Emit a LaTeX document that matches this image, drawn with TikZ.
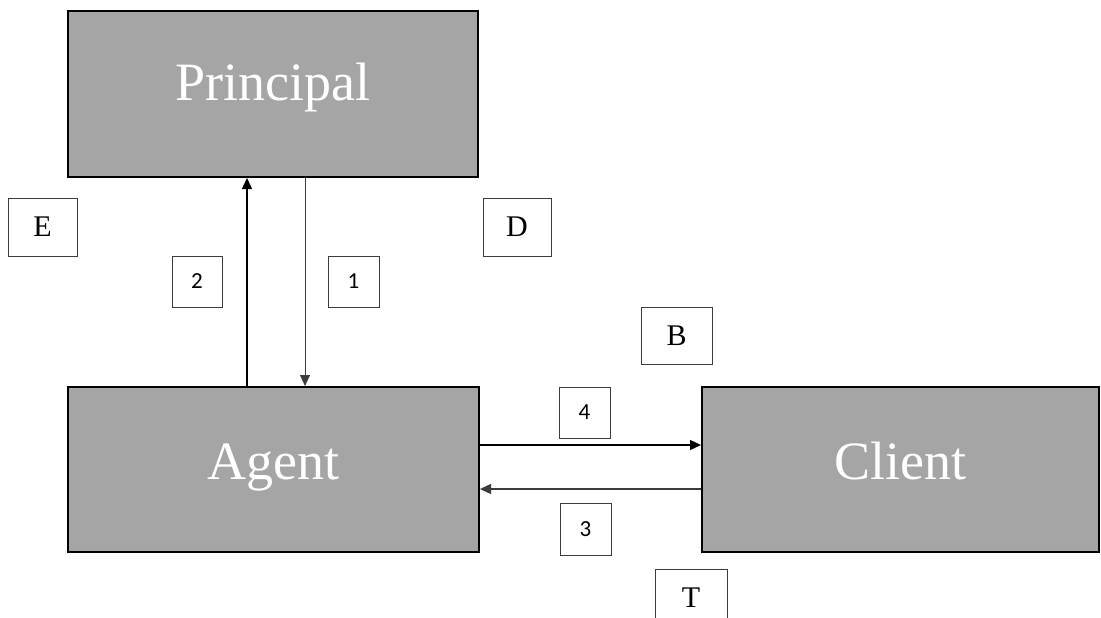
\documentclass[tikz,border=0pt]{standalone}
\usepackage{fontspec}
\setmainfont{Liberation Serif}
\newfontfamily\numfont{Carlito}
\usetikzlibrary{arrows.meta}
\definecolor{boxgray}{RGB}{165,165,165}
\definecolor{edgegray}{RGB}{60,60,60}
\begin{document}
\begin{tikzpicture}[x=1pt,y=-1pt,
  party/.style={draw=black,line width=2pt,fill=boxgray,text=white,inner sep=0pt,
    font=\fontsize{54}{58}\selectfont},
  letterbox/.style={draw=edgegray,line width=1pt,fill=white,inner sep=0pt,
    minimum height=58pt,font=\fontsize{30}{33}\selectfont},
  numbox/.style={draw=edgegray,line width=1pt,fill=white,inner sep=0pt,
    minimum width=51pt,minimum height=51pt,font=\numfont\fontsize{23}{26}\selectfont},
  flow/.style={line width=1.3pt,-{Triangle[length=11pt,width=10pt]}}]
\clip (0,0) rectangle (1101,618);
\fill[white] (0,0) rectangle (1101,618);

% the three parties
\node[party,minimum width=410pt,minimum height=166pt,text height=36pt,text depth=24pt] (principal) at (273,94) {Principal};
\node[party,minimum width=411pt,minimum height=165pt,text height=36pt,text depth=17pt] (agent) at (273.5,469.5) {Agent};
\node[party,minimum width=397pt,minimum height=165pt,text height=36pt,text depth=17pt] (client) at (900.5,469.5) {Client};

% flows between the parties
\draw[flow] (247,0 |- agent.north) -- (247,0 |- principal.south);
\draw[flow,draw=edgegray,line width=1pt] (305,0 |- principal.south) -- (305,0 |- agent.north);
\draw[flow] (agent.east |- 0,445) -- (client.west |- 0,445);
\draw[flow,draw=edgegray] (client.west |- 0,489) -- (agent.east |- 0,489);

% letter tags
\node[letterbox,minimum width=69pt] (E) at (42.5,227) {E};
\node[letterbox,minimum width=68pt] (D) at (517,227) {D};
\node[letterbox,minimum width=71pt,minimum height=57pt] (B) at (676.5,335.5) {B};
\node[letterbox,minimum width=72pt] (T) at (691,598) {T};

% flow numbers
\node[numbox,minimum width=50pt] (n2) at (197,281.5) {2};
\node[numbox] (n1) at (353.5,281.5) {1};
\node[numbox] (n4) at (584.5,412.5) {4};
\node[numbox,minimum height=52pt] (n3) at (585.5,529) {3};
\end{tikzpicture}
\end{document}
